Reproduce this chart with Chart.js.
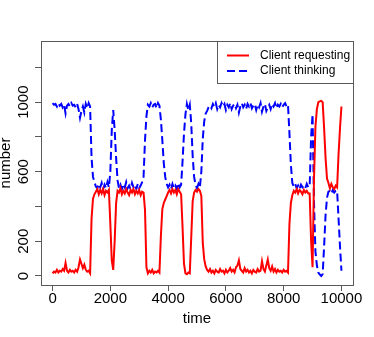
<!DOCTYPE html>
<html>
<head>
<meta charset="utf-8">
<script src="https://cdn.jsdelivr.net/npm/chart.js@4.4.1/dist/chart.umd.min.js"></script>
<style>
  html, body { margin: 0; padding: 0; background: #fff; }
</style>
</head>
<body>
<canvas id="clientsChart" width="374" height="337"></canvas>
<script>
// time axis (every 50 time units)
const times = [
  0, 50, 100, 150, 200, 250, 300, 350, 400, 450,
  500, 550, 600, 650, 700, 750, 800, 850, 900, 950,
  1000, 1050, 1100, 1150, 1200, 1250, 1300, 1350, 1400, 1450,
  1500, 1550, 1600, 1650, 1700, 1750, 1800, 1850, 1900, 1950,
  2000, 2050, 2100, 2150, 2200, 2250, 2300, 2350, 2400, 2450,
  2500, 2550, 2600, 2650, 2700, 2750, 2800, 2850, 2900, 2950,
  3000, 3050, 3100, 3150, 3200, 3250, 3300, 3350, 3400, 3450,
  3500, 3550, 3600, 3650, 3700, 3750, 3800, 3850, 3900, 3950,
  4000, 4050, 4100, 4150, 4200, 4250, 4300, 4350, 4400, 4450,
  4500, 4550, 4600, 4650, 4700, 4750, 4800, 4850, 4900, 4950,
  5000, 5050, 5100, 5150, 5200, 5250, 5300, 5350, 5400, 5450,
  5500, 5550, 5600, 5650, 5700, 5750, 5800, 5850, 5900, 5950,
  6000, 6050, 6100, 6150, 6200, 6250, 6300, 6350, 6400, 6450,
  6500, 6550, 6600, 6650, 6700, 6750, 6800, 6850, 6900, 6950,
  7000, 7050, 7100, 7150, 7200, 7250, 7300, 7350, 7400, 7450,
  7500, 7550, 7600, 7650, 7700, 7750, 7800, 7850, 7900, 7950,
  8000, 8050, 8100, 8150, 8200, 8250, 8300, 8350, 8400, 8450,
  8500, 8550, 8600, 8650, 8700, 8750, 8800, 8850, 8900, 8950,
  9000, 9050, 9100, 9150, 9200, 9250, 9300, 9350, 9400, 9450,
  9500, 9550, 9600, 9650, 9700, 9750, 9800, 9850, 9900, 9950,
  10000
];

const requesting = [
  15, 25, 20, 35, 20, 30, 25, 40, 30, 75,
  30, 20, 35, 25, 30, 20, 35, 25, 50, 95,
  70, 45, 65, 35, 25, 30, 15, 330, 445, 470,
  485, 500, 470, 495, 475, 500, 465, 490, 480, 495,
  300, 90, 35, 200, 420, 490, 480, 505, 470, 490,
  475, 500, 480, 465, 495, 480, 500, 470, 490, 475,
  495, 465, 485, 480, 380, 50, 15, 30, 20, 35,
  15, 25, 20, 30, 20, 230, 385, 420, 440, 460,
  480, 495, 475, 500, 480, 495, 470, 500, 485, 470,
  280, 70, 15, 10, 20, 15, 220, 430, 480, 495,
  485, 500, 490, 460, 190, 95, 55, 35, 25, 40,
  20, 30, 15, 35, 25, 20, 40, 25, 30, 15,
  35, 20, 30, 45, 25, 35, 20, 50, 60, 90,
  40, 30, 20, 45, 25, 35, 20, 30, 15, 35,
  25, 20, 40, 25, 30, 85, 40, 25, 60, 95,
  45, 30, 55, 25, 40, 20, 35, 25, 30, 20,
  35, 25, 30, 20, 300, 420, 465, 490, 480, 500,
  475, 495, 485, 470, 495, 480, 490, 475, 475, 200,
  50, 560, 860, 960, 1000, 1005, 1008, 1000, 850, 680,
  560, 535, 505, 530, 510, 500, 520, 510, 700, 850,
  975
];

const thinking = [
  995, 985, 990, 975, 995, 980, 990, 970, 985, 935,
  980, 990, 975, 995, 980, 985, 970, 990, 960, 910,
  950, 975, 940, 990, 965, 995, 975, 680, 570, 540,
  515, 505, 530, 510, 535, 500, 525, 505, 540, 510,
  600, 840, 955, 840, 680, 550, 505, 525, 500, 530,
  510, 540, 505, 520, 500, 535, 510, 525, 500, 530,
  505, 520, 540, 570, 780, 920, 985, 975, 995, 970,
  985, 990, 965, 995, 980, 900, 780, 650, 570, 530,
  510, 525, 500, 530, 505, 520, 500, 535, 510, 525,
  660, 820, 930, 990, 955, 985, 880, 690, 570, 525,
  505, 530, 510, 600, 790, 890, 935, 950, 970, 980,
  965, 990, 975, 995, 960, 985, 970, 995, 975, 990,
  955, 985, 970, 995, 960, 980, 990, 965, 985, 940,
  975, 995, 970, 985, 960, 990, 975, 995, 965, 980,
  990, 955, 985, 970, 995, 945, 975, 990, 950, 970,
  985, 960, 990, 975, 995, 965, 985, 975, 990, 970,
  985, 995, 975, 985, 820, 640, 535, 515, 530, 505,
  520, 500, 525, 510, 520, 505, 530, 510, 515, 800,
  930, 420, 140, 60, 20, 8, 0, 10, 170, 350,
  450, 485, 490, 475, 495, 480, 490, 490, 330, 170,
  30
];

const seriesNames = ['Client requesting', 'Client thinking'];
const xTicks = [0, 2000, 4000, 6000, 8000, 10000];
const xTickLabels = ['0', '2000', '4000', '6000', '8000', '10000'];
const yTicks = [0, 200, 400, 600, 800, 1000, 1200];
const yTickLabels = ['0', '200', '', '600', '', '1000', ''];

const axisColor = '#595959';
const fontFamily = '"Liberation Sans", Arial, Helvetica, sans-serif';
Chart.defaults.font.family = fontFamily;
Chart.defaults.color = '#000';

// R style box round the plot region
const framePlugin = {
  id: 'frame',
  afterDatasetsDraw(chart) {
    const { ctx, chartArea: a } = chart;
    ctx.save();
    ctx.strokeStyle = axisColor;
    ctx.lineWidth = 1;
    ctx.strokeRect(Math.round(a.left) + 0.5, Math.round(a.top) + 0.5,
      Math.round(a.right - a.left), Math.round(a.bottom - a.top));
    ctx.restore();
  }
};

// boxed legend in the top right corner of the plot
const boxLegend = {
  id: 'boxLegend',
  afterDraw(chart) {
    const { ctx, chartArea: a } = chart;
    const w = 136, h = 42;
    const x0 = Math.round(a.right) - w, y0 = Math.round(a.top);
    ctx.save();
    ctx.fillStyle = '#fff';
    ctx.fillRect(x0, y0, w, h);
    ctx.strokeStyle = axisColor;
    ctx.lineWidth = 1;
    ctx.strokeRect(x0 + 0.5, y0 + 0.5, w, h);
    ctx.font = '12px ' + fontFamily;
    ctx.textBaseline = 'middle';
    chart.data.datasets.forEach((ds, i) => {
      const y = y0 + 14.5 + i * 15.5;
      ctx.strokeStyle = ds.borderColor;
      ctx.lineWidth = ds.borderWidth;
      ctx.setLineDash(ds.borderDash || []);
      ctx.beginPath();
      ctx.moveTo(x0 + 10, y);
      ctx.lineTo(x0 + 32, y);
      ctx.stroke();
      ctx.setLineDash([]);
      ctx.fillStyle = '#000';
      ctx.fillText(ds.label, x0 + 43, y);
    });
    ctx.restore();
  }
};

const ctx = document.getElementById('clientsChart').getContext('2d');

const clientsChart = new Chart(ctx, {
  type: 'line',
  data: {
    datasets: [
      {
        label: seriesNames[0],
        data: times.map((t, i) => ({ x: t, y: requesting[i] })),
        borderColor: '#ff0000',
        borderWidth: 2,
        pointRadius: 0,
        tension: 0,
      },
      {
        label: seriesNames[1],
        data: times.map((t, i) => ({ x: t, y: thinking[i] })),
        borderColor: '#0000ff',
        borderWidth: 2,
        borderDash: [8, 4],
        pointRadius: 0,
        tension: 0,
      },
    ],
  },
  options: {
    responsive: false,
    animation: false,
    layout: { padding: { top: 41, right: 21, left: 0, bottom: 0 } },
    plugins: {
      legend: { display: false },
      tooltip: { enabled: false },
    },
    scales: {
      x: {
        type: 'linear',
        min: -400,
        max: 10400,
        afterBuildTicks: (scale) => { scale.ticks = xTicks.map((v) => ({ value: v })); },
        afterFit: (scale) => { scale.height = 52; },
        border: { display: false },
        grid: { drawOnChartArea: false, drawTicks: true, tickLength: 6, color: axisColor },
        ticks: {
          font: { size: 15 },
          color: '#000',
          padding: -1,
          maxRotation: 0,
          autoSkip: false,
          callback: (value, index) => xTickLabels[index],
        },
        title: { display: true, text: 'time', font: { size: 15 }, color: '#000', padding: { top: 0, bottom: 9 } },
      },
      y: {
        type: 'linear',
        min: -52,
        max: 1352,
        afterBuildTicks: (scale) => { scale.ticks = yTicks.map((v) => ({ value: v })); },
        afterFit: (scale) => { scale.width = 41; },
        border: { display: false },
        grid: { drawOnChartArea: false, drawTicks: true, tickLength: 6, color: axisColor },
        ticks: {
          font: { size: 15 },
          color: '#000',
          minRotation: 90,
          maxRotation: 90,
          crossAlign: 'center',
          padding: -6,
          autoSkip: false,
          callback: (value, index) => yTickLabels[index],
        },
        title: { display: true, text: 'number', font: { size: 15 }, color: '#000', padding: { top: -3, bottom: 0 } },
      },
    },
  },
  plugins: [framePlugin, boxLegend],
});
</script>
</body>
</html>
